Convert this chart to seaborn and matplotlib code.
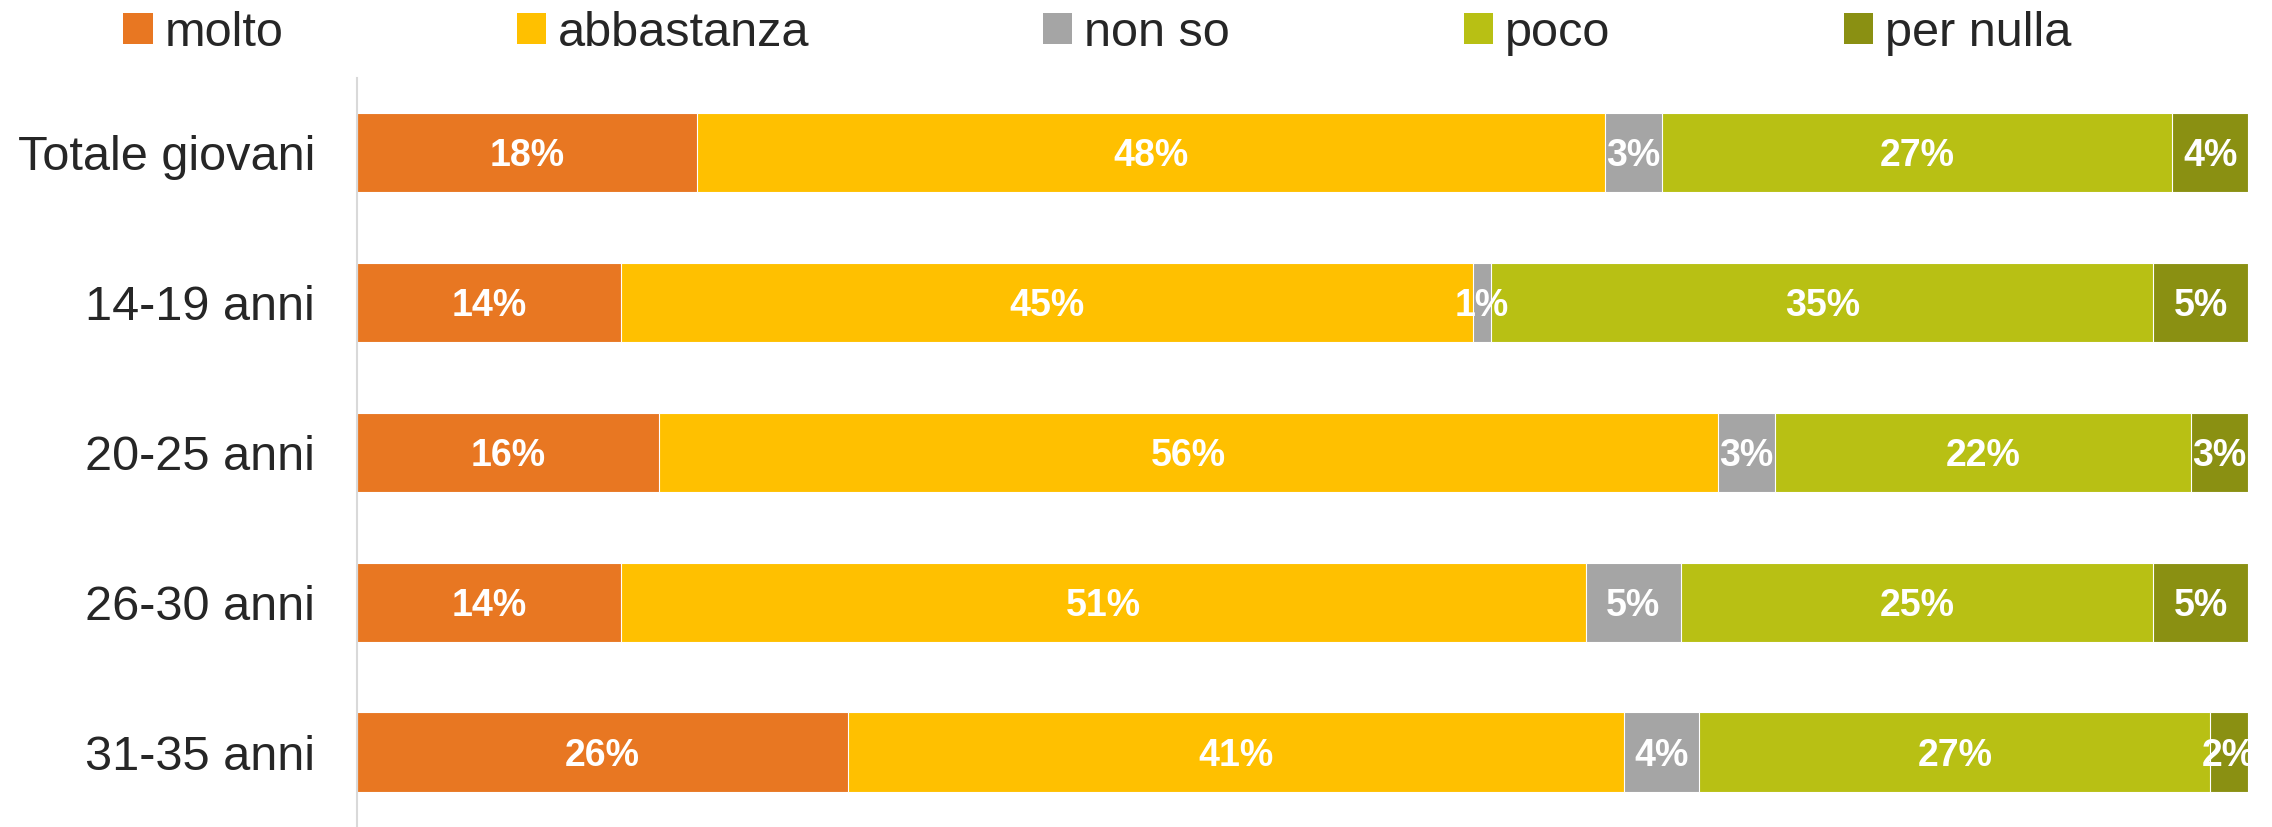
import matplotlib
matplotlib.use("Agg")
import matplotlib.pyplot as plt
import numpy as np
import pandas as pd
import seaborn as sns
from matplotlib.patches import Patch

# data (percent)
groups = ["Totale giovani", "14-19 anni", "20-25 anni", "26-30 anni", "31-35 anni"]
series = ["molto", "abbastanza", "non so", "poco", "per nulla"]
molto = [18, 14, 16, 14, 26]
abbastanza = [48, 45, 56, 51, 41]
non_so = [3, 1, 3, 5, 4]
poco = [27, 35, 22, 25, 27]
per_nulla = [4, 5, 3, 5, 2]
colors = ["#E87722", "#FFC000", "#A5A5A5", "#B8C014", "#8A9012"]

df = pd.DataFrame({"gruppo": groups, "molto": molto, "abbastanza": abbastanza,
                   "non so": non_so, "poco": poco, "per nulla": per_nulla})
cum = df[series].cumsum(axis=1)

sns.set_theme(style="white")
plt.rcParams["font.family"] = ["Liberation Sans", "DejaVu Sans"]

fig = plt.figure(figsize=(22.72, 8.27), dpi=100)
ax = fig.add_axes([0.157, 0.0, 0.8324, 0.906])

# stacked bars: draw cumulative totals from the last series backwards
for s, c in reversed(list(zip(series, colors))):
    sns.barplot(x=cum[s], y=df["gruppo"], orient="h", color=c, saturation=1,
                width=0.53, edgecolor="white", linewidth=0.8, ax=ax)

# value labels in the middle of every segment
for i in range(len(groups)):
    left = 0
    for s in series:
        v = df.loc[i, s]
        ax.text(left + v / 2, i + 0.025, f"{v}%", ha="center", va="center",
                color="white", fontsize=27, fontweight="bold", clip_on=True)
        left += v

ax.set_xlim(0, 100)
ax.set_ylim(4.5, -0.5)
ax.set_xlabel("")
ax.set_ylabel("")
ax.set_xticks([])
ax.tick_params(axis="y", length=0, pad=30, labelsize=35, labelcolor="#262626")
for side in ["top", "right", "bottom"]:
    ax.spines[side].set_visible(False)
ax.spines["left"].set_color("#D9D9D9")
ax.spines["left"].set_linewidth(1.5)

handles = [Patch(facecolor=c, edgecolor="none") for c in colors]
fig.legend(handles, series, loc="center", bbox_to_anchor=(0.483, 0.96), ncol=5,
           frameon=False, fontsize=35, handlelength=0.6, handleheight=0.6,
           handletextpad=0.25, columnspacing=4.8, labelcolor="#262626")

fig.savefig("out.png", dpi=100)
